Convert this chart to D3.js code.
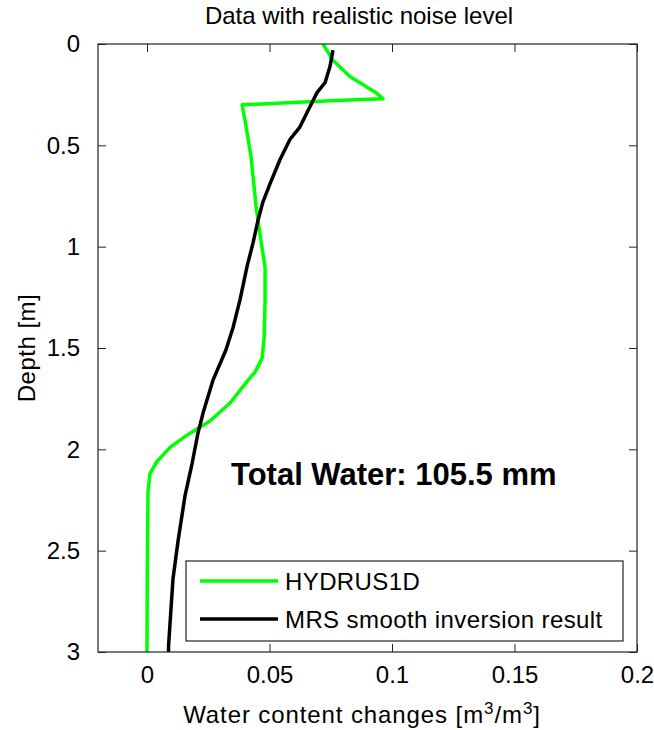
<!DOCTYPE html>
<html>
<head>
<meta charset="utf-8">
<script src="https://cdn.jsdelivr.net/npm/d3@7"></script>
<style>
  html, body { margin: 0; padding: 0; background: #fff; }
  svg { display: block; }
  text { font-family: Arial, "Liberation Sans", Helvetica, sans-serif; fill: #000; }
</style>
</head>
<body>
<div id="chart"></div>
<script>
// ---- Data ----
const title = "Data with realistic noise level";
const xTicks = [0, 0.05, 0.1, 0.15, 0.2];
const yTicks = [0, 0.5, 1, 1.5, 2, 2.5, 3];
const seriesNames = ["HYDRUS1D", "MRS smooth inversion result"];

// HYDRUS1D: depth [m] and water content change
const hydrusDepth = [0.00, 0.08, 0.16, 0.24, 0.27, 0.28, 0.296, 0.30, 0.375, 0.56, 0.80, 0.97, 1.10, 1.26, 1.45, 1.55, 1.62, 1.66, 1.77, 1.86, 1.93, 1.99, 2.06, 2.12, 2.21, 2.64, 3.00];
const hydrusValue = [0.0718, 0.0759, 0.0828, 0.0935, 0.0963, 0.0747, 0.0469, 0.0388, 0.0400, 0.0425, 0.0445, 0.0465, 0.0482, 0.0482, 0.0478, 0.0470, 0.0440, 0.0412, 0.0340, 0.0257, 0.0163, 0.0094, 0.0041, 0.0012, 0.0004, 0.0001, 0.0000];

// MRS smooth inversion result
const mrsDepth = [0.03, 0.11, 0.19, 0.24, 0.31, 0.41, 0.47, 0.57, 0.69, 0.78, 0.87, 0.98, 1.10, 1.26, 1.40, 1.51, 1.66, 1.82, 1.92, 2.07, 2.23, 2.45, 2.64, 2.97, 3.00];
const mrsValue = [0.0759, 0.0747, 0.0727, 0.0694, 0.0665, 0.0624, 0.0584, 0.0543, 0.0502, 0.0473, 0.0453, 0.0433, 0.0408, 0.0380, 0.0351, 0.0322, 0.0269, 0.0229, 0.0208, 0.0184, 0.0155, 0.0127, 0.0106, 0.0088, 0.0088];

const annotation = "Total Water: 105.5 mm";

// ---- Layout ----
const W = 654, H = 730;
const box = { left: 98, right: 637, top: 44, bottom: 652 };

const svg = d3.select("#chart").append("svg")
  .attr("width", W).attr("height", H);

const x = d3.scaleLinear().domain([-0.02, 0.2]).range([box.left, box.right]);
const y = d3.scaleLinear().domain([0, 3]).range([box.top, box.bottom]);

svg.append("defs").append("clipPath").attr("id", "clip")
  .append("rect").attr("x", box.left).attr("y", box.top)
  .attr("width", box.right - box.left).attr("height", box.bottom - box.top);

svg.append("rect").attr("x", box.left).attr("y", box.top)
  .attr("width", box.right - box.left).attr("height", box.bottom - box.top)
  .attr("fill", "#fff");

const fmt = d => String(d);
const tickLen = 8;

const axStyle = g => {
  g.select(".domain").remove();
  g.selectAll(".tick line").attr("stroke", "#222").attr("stroke-width", 1);
  g.selectAll(".tick text").style("font-size", "24px")
    .style("font-family", "Arial, 'Liberation Sans', sans-serif").attr("fill", "#000");
};

svg.append("g").attr("transform", `translate(0,${box.bottom})`)
  .call(d3.axisBottom(x).tickValues(xTicks).tickFormat(fmt).tickSizeInner(-tickLen).tickSizeOuter(0).tickPadding(14))
  .call(axStyle)
  .call(g => g.selectAll(".tick text").attr("dy", "0.71em"));

svg.append("g").attr("transform", `translate(0,${box.top})`)
  .call(d3.axisTop(x).tickValues(xTicks).tickFormat("").tickSizeInner(-tickLen).tickSizeOuter(0))
  .call(axStyle);

svg.append("g").attr("transform", `translate(${box.left},0)`)
  .call(d3.axisLeft(y).tickValues(yTicks).tickFormat(fmt).tickSizeInner(-tickLen).tickSizeOuter(0).tickPadding(18))
  .call(axStyle);

svg.append("g").attr("transform", `translate(${box.right},0)`)
  .call(d3.axisRight(y).tickValues(yTicks).tickFormat("").tickSizeInner(-tickLen).tickSizeOuter(0))
  .call(axStyle);

// Lines
const hydrus = hydrusDepth.map((d, i) => ({ d, v: hydrusValue[i] }));
const mrs = mrsDepth.map((d, i) => ({ d, v: mrsValue[i] }));
const line = d3.line().x(p => x(p.v)).y(p => y(p.d)).curve(d3.curveLinear);

const plot = svg.append("g").attr("clip-path", "url(#clip)");
plot.append("path").datum(hydrus).attr("d", line)
  .attr("fill", "none").attr("stroke", "#00ff00").attr("stroke-width", 3.5)
  .attr("stroke-linejoin", "round");
plot.append("path").datum(mrs).attr("d", line)
  .attr("fill", "none").attr("stroke", "#000").attr("stroke-width", 3.5)
  .attr("stroke-linejoin", "round");

// Box
svg.append("rect").attr("x", box.left).attr("y", box.top)
  .attr("width", box.right - box.left).attr("height", box.bottom - box.top)
  .attr("fill", "none").attr("stroke", "#222").attr("stroke-width", 1.2);

// Title
svg.append("text").attr("x", 359).attr("y", 24)
  .attr("text-anchor", "middle").style("font-size", "24px").text(title);

// X label with superscripts
const xl = svg.append("text").attr("x", 362).attr("y", 723)
  .attr("text-anchor", "middle").style("font-size", "24px").style("letter-spacing", "0.9px");
xl.append("tspan").text("Water content changes [m");
xl.append("tspan").attr("dy", -9).style("font-size", "17px").text("3");
xl.append("tspan").attr("dy", 9).text("/m");
xl.append("tspan").attr("dy", -9).style("font-size", "17px").text("3");
xl.append("tspan").attr("dy", 9).text("]");

// Y label
svg.append("text").attr("transform", `translate(35,${(box.top + box.bottom) / 2}) rotate(-90)`)
  .attr("text-anchor", "middle").style("font-size", "24px").style("letter-spacing", "0.5px").text("Depth [m]");

// Annotation
svg.append("text").attr("x", 231).attr("y", 485)
  .style("font-size", "31px").style("font-weight", "bold").text(annotation);

// Legend
const lg = svg.append("g");
lg.append("rect").attr("x", 186).attr("y", 561).attr("width", 437).attr("height", 80)
  .attr("fill", "#fff").attr("stroke", "#222").attr("stroke-width", 1.2);
const legendItems = [
  { name: seriesNames[0], color: "#00ff00", cy: 581 },
  { name: seriesNames[1], color: "#000", cy: 619 }
];
legendItems.forEach(it => {
  lg.append("line").attr("x1", 200).attr("x2", 278).attr("y1", it.cy).attr("y2", it.cy)
    .attr("stroke", it.color).attr("stroke-width", 3.5);
  lg.append("text").attr("x", 285).attr("y", it.cy + 9)
    .style("font-size", "24px").style("letter-spacing", "0.4px").text(it.name);
});
</script>
</body>
</html>
